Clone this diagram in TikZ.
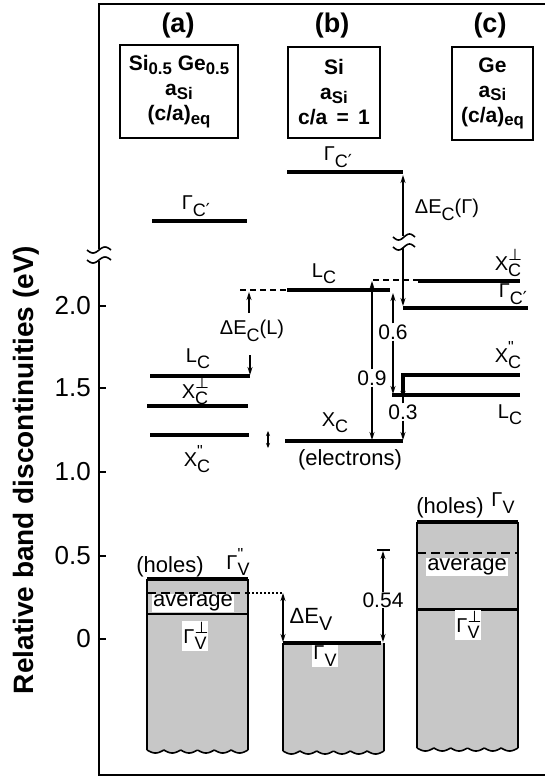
\documentclass[tikz,border=0pt]{standalone}
\usepackage{fontspec}
\setmainfont{Liberation Sans}
\newfontfamily\dejavu{DejaVu Sans}
\usetikzlibrary{arrows.meta}
\newcommand\lsub[2]{#1\raisebox{-0.32em}{\scalebox{0.9}{#2}}}
\newcommand\lss[3]{#1\rlap{\raisebox{0.5em}{\scalebox{0.8}{#3}}}\raisebox{-0.32em}{\scalebox{0.9}{#2}}}
\newcommand\bsub[2]{#1\raisebox{-0.16em}{\scalebox{0.8}{#2}}}
\newcommand\prm{{\dejavu ′}}
\newcommand\perpsym{{\dejavu ⊥}}
\newcommand\parsym{\textquotedbl}
\tikzset{
  lvl/.style={line width=4.5pt},
  frm/.style={line width=2pt},
  side/.style={line width=1.6pt},
  arr/.style={line width=1.3pt,-{Stealth[length=8pt,width=5pt]}},
  darr/.style={line width=1.3pt,{Stealth[length=8pt,width=5pt]}-{Stealth[length=8pt,width=5pt]}},
  sdarr/.style={line width=1.1pt,{Stealth[length=5pt,width=4pt]}-{Stealth[length=5pt,width=4pt]}},
  dsh/.style={line width=1.3pt,dash pattern=on 6pt off 4pt},
  avg/.style={line width=2.5pt,dash pattern=on 9pt off 5pt},
  lab/.style={font=\fontsize{20}{21}\selectfont,inner sep=1pt},
  txt/.style={font=\fontsize{22}{23}\selectfont,inner sep=1pt},
  num/.style={font=\fontsize{21}{22}\selectfont,inner sep=1pt},
  ticklab/.style={font=\fontsize{26}{27}\selectfont,anchor=east,inner sep=0pt},
  hdr/.style={font=\bfseries\fontsize{27}{28}\selectfont,inner sep=0pt},
  infobox/.style={draw,line width=2pt,inner sep=0pt,align=center,font=\bfseries\fontsize{21}{25}\selectfont},
  wbg/.style={fill=white},
  vfill/.style={fill=black!22},
  squig/.style={line width=1.6pt}
}
\begin{document}
\begin{tikzpicture}[x=1pt,y=-1pt]
\useasboundingbox (0,0) rectangle (545,777);

% frame and axis
\coordinate (ftr) at (545,4);
\coordinate (ftl) at (99,4);
\coordinate (brk1) at (99,249);
\coordinate (brk2) at (99,261);
\coordinate (fbl) at (99,775);
\coordinate (fbr) at (545,775);
\draw[frm] (ftr) -- (ftl) -- (brk1);
\draw[frm] (brk2) -- (fbl) -- (fbr);
\draw[squig] plot[domain=-12:12,samples=25,smooth] ({99+\x},{250-3*sin(\x*15)});
\draw[squig] plot[domain=-12:12,samples=25,smooth] ({99+\x},{260-3*sin(\x*15)});
\foreach \yy/\t in {306/2.0,388/1.5,472/1.0,556/0.5,639/0}{
  \draw[frm] (99,\yy) -- (106,\yy);
  \node[ticklab] at (91,\yy) {\t};
}
\node[rotate=90,font=\bfseries\fontsize{28}{29}\selectfont] (ylab) at (26,470) {Relative band discontinuities (eV)};

% headers and boxes
\node[hdr] (ha) at (178,26) {(a)};
\node[hdr] (hb) at (332,26) {(b)};
\node[hdr] (hc) at (490,26) {(c)};
\node[infobox,minimum width=118pt,minimum height=93pt] (boxa) at (179,91.5)
  {\bsub{Si}{0.5} \bsub{Ge}{0.5}\\ \bsub{a}{Si}\\ (c/a)\bsub{}{eq}};
\node[infobox,minimum width=92pt,minimum height=91pt] (boxb) at (334,92.5)
  {Si\\ \bsub{a}{Si}\\ c/a \,=\, 1};
\node[infobox,minimum width=81pt,minimum height=93pt] (boxc) at (492.5,93.5)
  {Ge\\ \bsub{a}{Si}\\ (c/a)\bsub{}{eq}};

% valence fills
\fill[vfill] (147,579) -- (248,579) -- (248,750)
  -- plot[domain=248:147,samples=90] (\x,{750+3*abs(sin((\x-147)*10.695))}) -- cycle;
\fill[vfill] (283,643) -- (384,643) -- (384,751)
  -- plot[domain=384:283,samples=90] (\x,{751+3*abs(sin((\x-283)*10.695))}) -- cycle;
\fill[vfill] (417,522) -- (518,522) -- (518,748)
  -- plot[domain=518:417,samples=90] (\x,{748+3*abs(sin((\x-417)*10.695))}) -- cycle;

% valence outlines (a)
\draw[side] (147,579) -- (147,750);
\draw[side] (248,579) -- (248,750);
\draw[side] plot[domain=147:248,samples=90] (\x,{750+3*abs(sin((\x-147)*10.695))});
\draw[lvl] (147,579) -- (248,579);
\draw[avg] (147,593) -- (248,593);
\draw[line width=2.5pt] (147,614) -- (248,614);
% (b)
\draw[side] (283,643) -- (283,751);
\draw[side] (384,643) -- (384,751);
\draw[side] plot[domain=283:384,samples=90] (\x,{751+3*abs(sin((\x-283)*10.695))});
\draw[lvl] (283,643) -- (381,643);
% (c)
\draw[side] (417,522) -- (417,748);
\draw[side] (518,522) -- (518,748);
\draw[side] plot[domain=417:518,samples=90] (\x,{748+3*abs(sin((\x-417)*10.695))});
\draw[lvl] (417,522) -- (518,522);
\draw[avg] (417,553) -- (518,553);
\draw[line width=3pt] (417,609) -- (518,609);

% valence connectors
\coordinate (avga) at (248,593);
\coordinate (dev1) at (283,593);
\coordinate (dev2) at (283,642);
\draw[line width=2pt,dotted] (avga) -- (dev1);
\draw[darr] (dev1) -- (dev2);
\coordinate (t54) at (383,550);
\coordinate (b54) at (383,642);
\draw[line width=1.5pt] (377,550) -- (390,550);
\draw[darr] (383,551) -- (b54);

% valence labels
\node[txt] (holesa) at (170,567) {(holes)};
\node[lab] (gva) at (238,562) {\lss{Γ}{V}{\parsym}};
\node[txt,wbg] (avgla) at (193,603) {average};
\node[lab,wbg] (gvpa) at (195,636) {\lss{Γ}{V}{\perpsym}};
\node[txt] (dEV) at (311,619) {Δ\lsub{E}{V}};
\node[lab,wbg] (gvb) at (325,656) {\lsub{Γ}{V}};
\node[num,wbg] (n54) at (383,600) {0.54};
\node[txt] (holesc) at (450,508) {(holes)};
\node[lab] (gvc) at (503,503) {\lsub{Γ}{V}};
\node[txt,wbg] (avglc) at (467,567) {average};
\node[lab,wbg] (gvpc) at (468,625) {\lss{Γ}{V}{\perpsym}};

% conduction levels (a)
\draw[lvl] (152,221) -- (247,221);
\draw[lvl] (150,376) -- (250,376);
\draw[lvl] (147,406) -- (248,406);
\draw[lvl] (150,435) -- (249,435);
\node[lab] (gca) at (196,206) {\lsub{Γ}{C\prm}};
\node[lab] (lca) at (198,359) {\lsub{L}{C}};
\node[lab] (xpa) at (195,391) {\lss{X}{C}{\perpsym}};
\node[lab] (xla) at (197,459) {\lss{X}{C}{\parsym}};
\draw[sdarr] (268,431) -- (268,448);

% Delta E_C(L)
\coordinate (dl1) at (240,290);
\coordinate (dl2) at (287,290);
\draw[dsh] (dl1) -- (dl2);
\draw[arr] (249,313) -- (249,292);
\draw[arr] (250,355) -- (250,375);
\node[lab] (dECL) at (252,331) {Δ\lsub{E}{C}(L)};

% conduction levels (b)
\draw[lvl] (287,172) -- (403,172);
\draw[lvl] (287,290) -- (390,290);
\draw[lvl] (285,441) -- (403,441);
\node[lab] (gcb) at (338,157) {\lsub{Γ}{C\prm}};
\node[lab] (lcb) at (324,274) {\lsub{L}{C}};
\node[lab] (xcb) at (335,423) {\lsub{X}{C}};
\node[txt] (elec) at (350,460) {(electrons)};

% Delta E_C(Gamma)
\draw[arr] (403,236) -- (403,175);
\draw[arr] (403,248) -- (403,306);
\draw[squig] plot[domain=-11:11,samples=25,smooth] ({404+\x},{237-3*sin(\x*16.4)});
\draw[squig] plot[domain=-11:11,samples=25,smooth] ({404+\x},{247-3*sin(\x*16.4)});
\node[lab] (dECG) at (447,210) {Δ\lsub{E}{C}(Γ)};

% conduction levels (c)
\draw[dsh] (373,280) -- (418,280);
\draw[lvl] (418,281) -- (520,281);
\draw[lvl] (403,308) -- (528,308);
\draw[lvl] (403,394) -- (403,375) -- (520,375);
\draw[lvl] (392,395) -- (520,395);
\node[lab] (xpc) at (508,263) {\lss{X}{C}{\perpsym}};
\node[lab] (gcc) at (513,294) {\lsub{Γ}{C\prm}};
\node[lab] (xlc) at (508,355) {\lss{X}{C}{\parsym}};
\node[lab] (lcc) at (510,415) {\lsub{L}{C}};

% offsets
\node[num] (n09) at (372,378) {0.9};
\draw[arr] (n09.north) -- (372,281);
\draw[arr] (n09.south) -- (372,440);
\node[num] (n06) at (393,332) {0.6};
\draw[arr] (n06.north) -- (393,293);
\draw[arr] (n06.south) -- (393,394);
\node[num] (n03) at (403,412) {0.3};
\draw[arr] (n03.north) -- (403,384);
\draw[arr] (n03.south) -- (403,440);
\end{tikzpicture}
\end{document}
